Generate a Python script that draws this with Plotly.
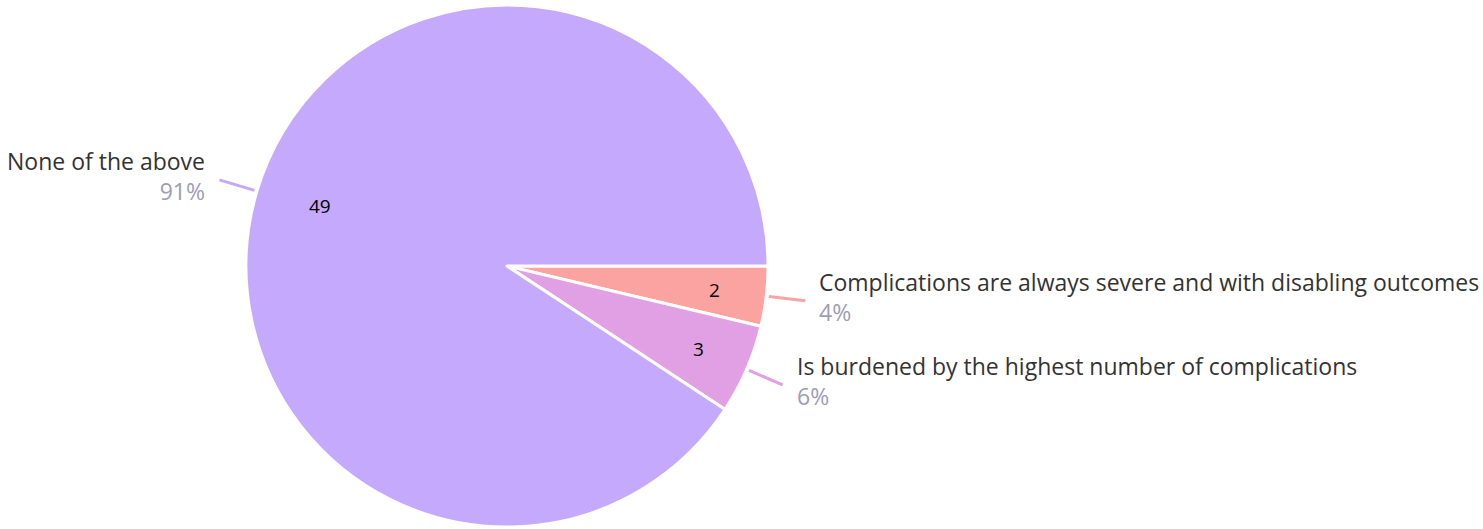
import math
import plotly.graph_objects as go

# Data ---
labels = [
    "Complications are always severe and with disabling outcomes",
    "Is burdened by the highest number of complications",
    "None of the above",
]
values = [2, 3, 49]
colors = ["#fba3a1", "#e1a0e3", "#c5a9fd"]

W, H = 1483, 529
CX, CY, R = 507, 266, 261  # pie centre / radius in pixels


def px(x, y):
    return x / W, 1 - y / H


fig = go.Figure(go.Pie(
    labels=labels,
    values=values,
    sort=False,
    direction="clockwise",
    rotation=90,
    marker=dict(colors=colors, line=dict(color="white", width=3)),
    textinfo="none",
    hoverinfo="label+value+percent",
    showlegend=False,
    domain=dict(x=[(CX - R) / W, (CX + R) / W], y=[(H - CY - R) / H, (H - CY + R) / H]),
))

total = sum(values)
start = 0.0
annotations, shapes = [], []
for lab, val, col in zip(labels, values, colors):
    span = val / total * 360
    mid = math.radians(start + span / 2)
    start += span
    dx, dy = math.cos(mid), math.sin(mid)  # clockwise from east, screen coords

    # value inside the slice
    vx, vy = px(CX + 0.8 * R * dx, CY + 0.8 * R * dy)
    annotations.append(dict(x=vx, y=vy, xref="paper", yref="paper", text=str(val),
                            showarrow=False, font=dict(size=19, color="black")))

    # leader line
    x0, y0 = px(CX + 1.01 * R * dx, CY + 1.01 * R * dy)
    ex, ey = CX + 1.15 * R * dx, CY + 1.15 * R * dy
    x1, y1 = px(ex, ey)
    shapes.append(dict(type="line", xref="paper", yref="paper", x0=x0, y0=y0, x1=x1, y1=y1,
                       line=dict(color=col, width=3)))

    # outside label + percentage
    right = dx >= 0
    pct = round(val / total * 100)
    annotations.append(dict(
        x=(ex + (12 if right else -12)) / W, y=px(0, ey - 4)[1],
        xref="paper", yref="paper", showarrow=False,
        xanchor="left" if right else "right", yanchor="middle",
        align="left" if right else "right",
        text=f"{lab}<br><span style='color:#9d9db9'>{pct}%</span>",
        font=dict(size=23, color="#333333"),
    ))

fig.update_layout(
    width=W, height=H,
    margin=dict(l=0, r=0, t=0, b=0),
    paper_bgcolor="white",
    font=dict(family="Open Sans"),
    annotations=annotations,
    shapes=shapes,
)

fig.write_html("out.html", config={"displayModeBar": False},
               post_script="document.body.style.margin='0';")
